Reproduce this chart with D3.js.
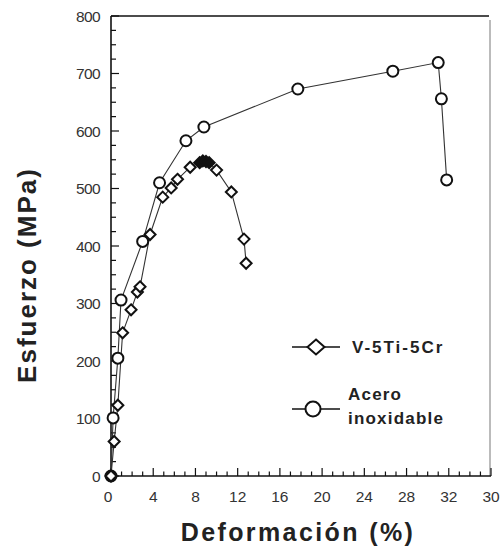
<!DOCTYPE html>
<html><head><meta charset="utf-8">
<script src="https://cdn.jsdelivr.net/npm/d3@7"></script>
<style>body{margin:0;background:#fff}svg{display:block}</style>
</head><body>
<svg id="c" width="501" height="551"></svg>
<script>
// Data: strain (%) and stress (MPa)
const vStrain  = [0, 0.3, 0.65, 1.1, 1.9, 2.5, 2.75, 3.7, 4.9, 5.7, 6.3, 7.5, 8.4, 8.7, 9.0, 9.3, 10.0, 11.4, 12.6, 12.8];
const vStress  = [0, 60, 123, 249, 289, 320, 329, 420, 485, 501, 516, 537, 545, 548, 547, 545, 532, 494, 412, 370];
const aStrain  = [0, 0.2, 0.65, 0.95, 3.0, 4.6, 7.1, 8.8, 17.7, 26.7, 31.0, 31.3, 31.8];
const aStress  = [0, 101, 205, 306, 408, 510, 583, 607, 673, 704, 719, 656, 515];
const xTicks   = [0, 4, 8, 12, 16, 20, 24, 28, 32, 36];
const xTickLabels = ["0", "4", "8", "12", "16", "20", "24", "28", "32", "30"];
const yTicks   = [0, 100, 200, 300, 400, 500, 600, 700, 800];
const seriesNames = ["V-5Ti-5Cr", ["Acero", "inoxidable"]];

const svg = d3.select("#c");
const x = d3.scaleLinear().domain([0, 36]).range([111, 491]);
const y = d3.scaleLinear().domain([0, 800]).range([476, 16]);
const ink = "#111";
const font = "Liberation Sans, Arial, sans-serif";

// Frame
svg.append("line").attr("x1", x(0)).attr("x2", 489).attr("y1", y(800)).attr("y2", y(800))
  .attr("stroke", ink).attr("stroke-width", 1.5);
svg.append("line").attr("x1", 490).attr("x2", 490).attr("y1", 20).attr("y2", y(0))
  .attr("stroke", "#bbb").attr("stroke-width", 2);

// Y axis
const yMinor = d3.range(0, 801, 25);
const yAx = svg.append("g");
yAx.append("line").attr("x1", x(0)).attr("x2", x(0)).attr("y1", y(0)).attr("y2", y(800))
  .attr("stroke", ink).attr("stroke-width", 1.6);
yAx.selectAll("line.t").data(yMinor).join("line").attr("class", "t")
  .attr("x1", x(0)).attr("x2", d => x(0) + (d % 100 === 0 ? 8 : 5))
  .attr("y1", d => y(d)).attr("y2", d => y(d)).attr("stroke", ink).attr("stroke-width", 1.2);
yAx.selectAll("text").data(yTicks).join("text")
  .attr("x", 100).attr("y", d => y(d) + 5.5).attr("text-anchor", "end")
  .attr("font-family", font).attr("font-size", 15.5)
  .attr("letter-spacing", -0.6).attr("fill", "#333").text(d => d);

// X axis
const xMinor = d3.range(0, 37, 1);
const xAx = svg.append("g");
xAx.append("line").attr("x1", x(0)).attr("x2", x(36)).attr("y1", y(0)).attr("y2", y(0))
  .attr("stroke", ink).attr("stroke-width", 1.6);
xAx.selectAll("line.t").data(xMinor).join("line").attr("class", "t")
  .attr("x1", d => x(d)).attr("x2", d => x(d))
  .attr("y1", y(0)).attr("y2", d => y(0) - (d % 4 === 0 ? 8 : 4.5))
  .attr("stroke", ink).attr("stroke-width", 1.2);
xAx.selectAll("text").data(xTicks).join("text")
  .attr("x", d => x(d) - (d === 0 ? 3 : 0)).attr("y", 502).attr("text-anchor", "middle")
  .attr("font-family", font).attr("font-size", 15.5)
  .attr("fill", "#333").text((d, i) => xTickLabels[i]);

// Axis titles
svg.append("text").attr("x", 298).attr("y", 541).attr("text-anchor", "middle")
  .attr("font-family", font).attr("font-weight", "bold")
  .attr("font-size", 25).attr("letter-spacing", 2.4).attr("fill", "#222").text("Deformación (%)");
svg.append("text").attr("transform", "translate(36,275) rotate(-90)").attr("text-anchor", "middle")
  .attr("font-family", font).attr("font-weight", "bold")
  .attr("font-size", 26).attr("letter-spacing", 2).attr("fill", "#222").text("Esfuerzo (MPa)");

// Lines
const line = d3.line().x(d => x(d[0])).y(d => y(d[1]));
const vData = vStrain.map((v, i) => [v, vStress[i]]);
const aData = aStrain.map((v, i) => [v, aStress[i]]);
svg.append("path").attr("d", line(vData)).attr("fill", "none").attr("stroke", "#333").attr("stroke-width", 1.1);
svg.append("path").attr("d", line(aData)).attr("fill", "none").attr("stroke", "#333").attr("stroke-width", 1.1);

function diamond(g, cx, cy, hw, hh, fill) {
  g.append("path").attr("d", `M${cx},${cy - hh}L${cx + hw},${cy}L${cx},${cy + hh}L${cx - hw},${cy}Z`)
    .attr("fill", fill || "#fff").attr("stroke", ink).attr("stroke-width", 2);
}
const mk = svg.append("g");
aData.forEach((d, i) => mk.append("circle").attr("cx", x(d[0])).attr("cy", y(d[1])).attr("r", 5.5)
  .attr("fill", i === 0 ? ink : "#fff").attr("stroke", ink).attr("stroke-width", 2));
// overlapping markers at the peak print as a solid blob in the reference
vData.forEach(d => diamond(mk, x(d[0]), y(d[1]), 5.5, 5.5, d[1] >= 544 ? ink : "#fff"));

// Legend
const lg = svg.append("g");
lg.append("line").attr("x1", 292).attr("x2", 340).attr("y1", 347).attr("y2", 347).attr("stroke", ink).attr("stroke-width", 1.5);
diamond(lg, 316, 347, 8.5, 7.5);
lg.append("text").attr("x", 352).attr("y", 353).attr("font-family", font)
  .attr("font-weight", "bold").attr("font-size", 17).attr("letter-spacing", 2).attr("fill", "#222").text(seriesNames[0]);
lg.append("line").attr("x1", 292).attr("x2", 340).attr("y1", 409).attr("y2", 409).attr("stroke", ink).attr("stroke-width", 1.5);
lg.append("circle").attr("cx", 313).attr("cy", 409).attr("r", 7.5).attr("fill", "#fff").attr("stroke", ink).attr("stroke-width", 2);
lg.append("text").attr("x", 348).attr("y", 400).attr("font-family", font)
  .attr("font-weight", "bold").attr("font-size", 17).attr("letter-spacing", 1.2).attr("fill", "#222").text(seriesNames[1][0]);
lg.append("text").attr("x", 348).attr("y", 424).attr("font-family", font)
  .attr("font-weight", "bold").attr("font-size", 17).attr("letter-spacing", 1.2).attr("fill", "#222").text(seriesNames[1][1]);
</script>
</body></html>
